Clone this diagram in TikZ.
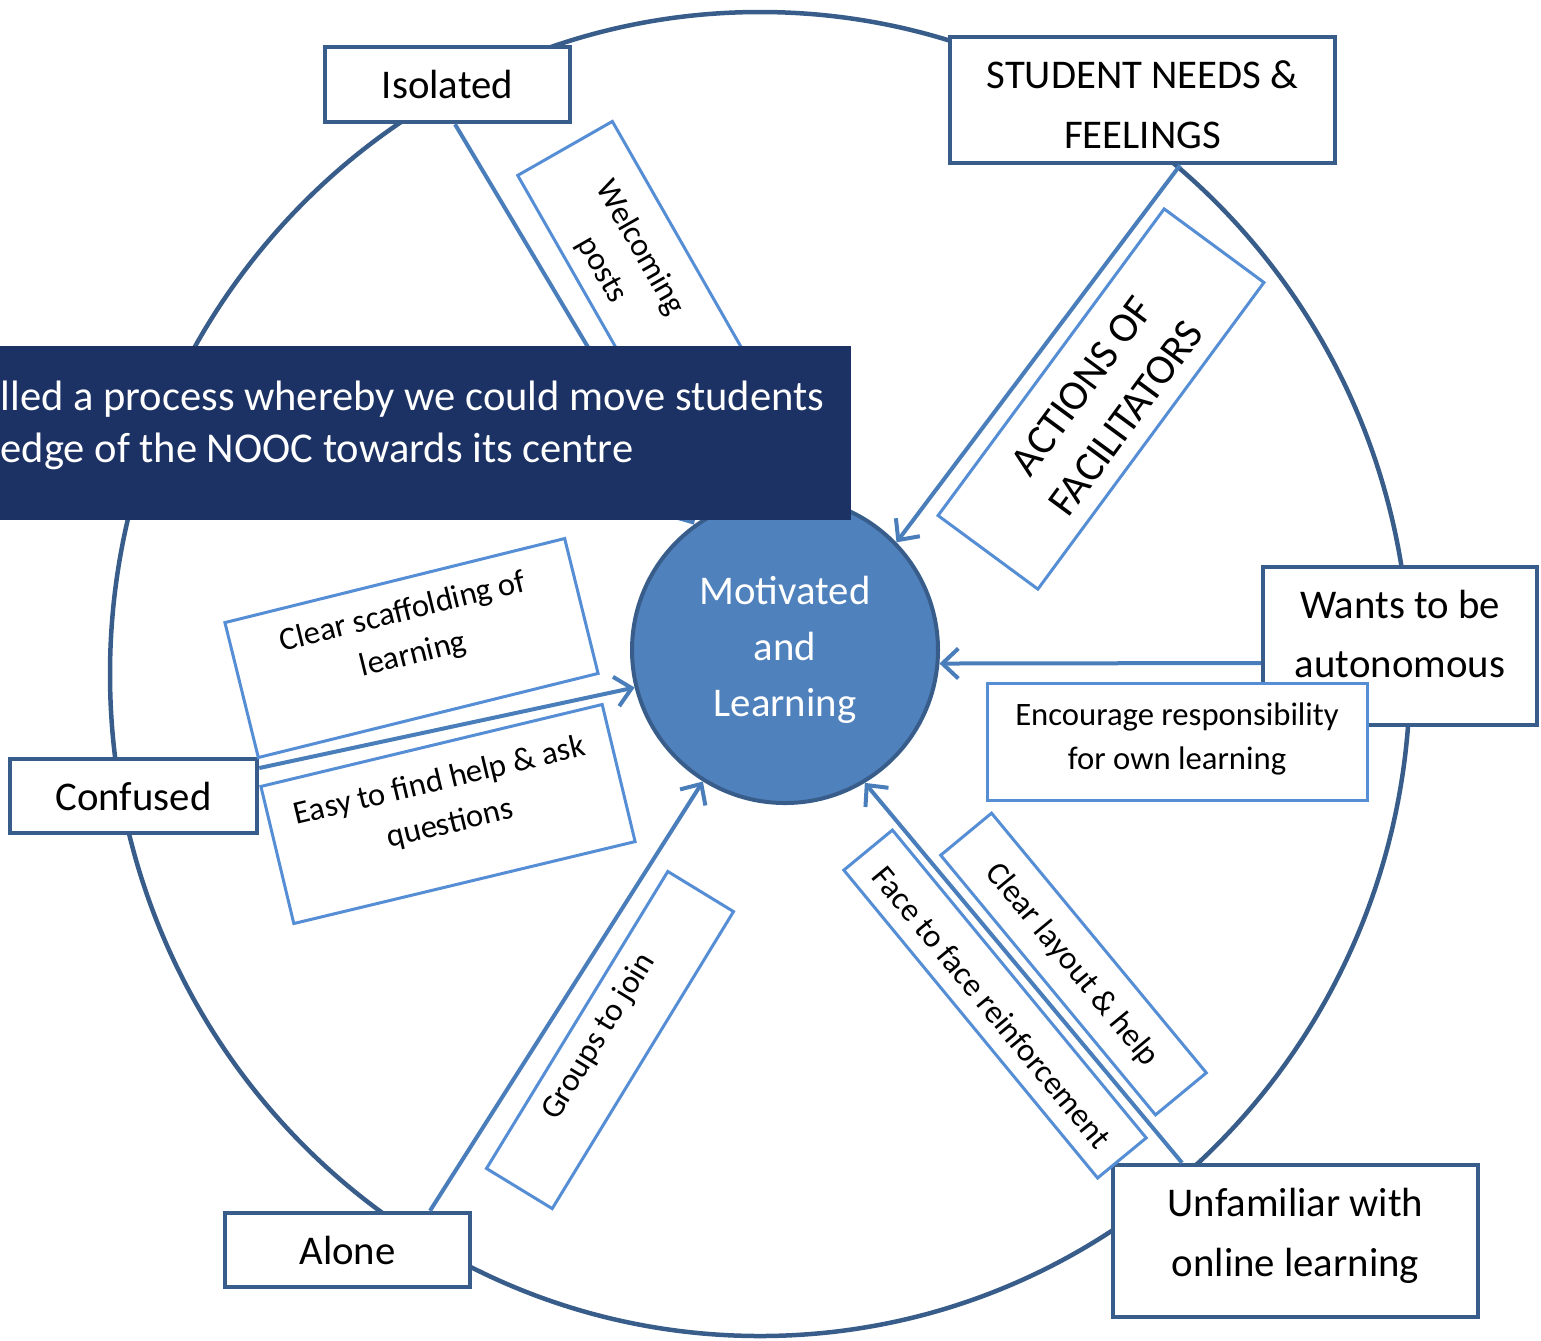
\documentclass[tikz,border=0pt]{standalone}
\usepackage{fontspec}
\setmainfont{Carlito}
\usepackage{tikz}
\usetikzlibrary{arrows.meta}

\definecolor{rimblue}{RGB}{56,93,138}
\definecolor{flowblue}{RGB}{74,126,187}
\definecolor{tagblue}{RGB}{85,142,213}
\definecolor{coreblue}{RGB}{79,129,189}
\definecolor{bannerblue}{RGB}{28,50,100}

\begin{document}
\begin{tikzpicture}[
        x=0.1mm, y=-0.1mm,
        statebox/.style={draw=rimblue, line width=0.45mm, fill=white, align=center, inner sep=0pt, font=\fontsize{11.6}{17}\selectfont},
        statetext/.style={align=center, inner sep=0pt, font=\fontsize{11.6}{17}\selectfont},
        tagbox/.style={draw=tagblue, line width=0.3mm, fill=white, inner sep=0pt},
        tagtext/.style={align=center, inner sep=0pt, font=\fontsize{9.3}{12.5}\selectfont},
        flowline/.style={draw=flowblue, line width=0.4mm, -{Straight Barb[length=1.6mm,width=3mm]}}
    ]
        \useasboundingbox (0,0) rectangle (1541,1340);
        \draw [rimblue, line width=0.45mm] (760,674) ellipse [x radius=65mm, y radius=66.2mm];

        % student states round the rim
        \node (iso) [statebox, minimum width=24.5mm, minimum height=7.5mm] at (447.5,84.5) {Isolated};
        \node (feel) [statebox, minimum width=38.5mm, minimum height=12.6mm] at (1142.5,100) {};
        \node (feelT) [statetext] at (1142.5,105) {STUDENT NEEDS \&\\FEELINGS};
        \node (want) [statebox, minimum width=27.4mm, minimum height=15.8mm] at (1400,646) {};
        \node (wantT) [statetext] at (1400,634) {Wants to be\\autonomous};
        \node (unf) [statebox, minimum width=36.5mm, minimum height=15.2mm] at (1295.5,1241) {};
        \node (unfT) [statetext] at (1295.5,1236) {Unfamiliar with\\online learning};
        \node (alone) [statebox, minimum width=24.5mm, minimum height=7.4mm] at (347.5,1250) {Alone};
        \node (conf) [statebox, minimum width=24.7mm, minimum height=7.4mm] at (133.5,796) {Confused};

        % actions along the arrows
        \node (welc) [tagbox, rotate=-60.3, minimum width=28mm, minimum height=10.9mm] at (634.4,270) {};
        \node (welcT) [tagtext, rotate=-60.3] at (621,259) {Welcoming\\posts};
        \node (act) [tagbox, rotate=53.6, minimum width=38.1mm, minimum height=12.4mm] at (1101,399) {};
        \node (actT) [tagtext, rotate=53.6, font=\fontsize{12}{15.6}\selectfont] at (1104,402) {ACTIONS OF\\FACILITATORS};
        \node (resp) [tagbox, minimum width=38mm, minimum height=11.7mm] at (1177,741.5) {};
        \node (respT) [tagtext] at (1177,738.5) {Encourage responsibility\\for own learning};
        \node (face) [tagbox, rotate=-50.5, minimum width=39.9mm, minimum height=6.3mm] at (995,1004) {};
        \node (faceT) [tagtext, rotate=-50.5] at (992,1007) {Face to face reinforcement};
        \node (lay) [tagbox, rotate=-50.4, minimum width=33.7mm, minimum height=6.6mm] at (1073.5,964) {};
        \node (layT) [tagtext, rotate=-50.4] at (1072,965) {Clear layout \& help};
        \node (grp) [tagbox, rotate=58.6, minimum width=34.8mm, minimum height=7.7mm] at (610,1040) {};
        \node (grpT) [tagtext, rotate=58.6] at (599,1037) {Groups to join};
        \node (scaf) [tagbox, rotate=13.9, minimum width=35mm, minimum height=13.9mm] at (411.5,648) {};
        \node (scafT) [tagtext, rotate=13.9] at (408,634) {Clear scaffolding of\\learning};
        \node (easy) [tagbox, rotate=13.5, minimum width=35.1mm, minimum height=14.1mm] at (448,814) {};
        \node (easyT) [tagtext, rotate=13.5] at (445,803) {Easy to find help \& ask\\questions};

        \node (mot) [circle, draw=rimblue, line width=0.4mm, fill=coreblue, text=white, minimum size=30.6mm, inner sep=0pt, align=center, font=\fontsize{11.6}{16}\selectfont] at (785,650) {Motivated\\and\\Learning};

        \draw [flowline] ([xshift=0.75mm]iso.south) -- (mot.126);
        \draw [flowline] ([xshift=3.75mm]feel.south) -- (mot.44);
        \draw [flowline] ([yshift=-1.7mm]want.west) -- (mot.-5);
        \draw [flowline] ([xshift=-11.35mm]unf.north) -- (mot.-59.5);
        \draw [flowline] ([xshift=8.25mm]alone.north) -- (mot.-122.5);
        \draw [flowline] ([yshift=2.8mm]conf.east) -- (mot.-166);

        % slide caption laid over the picture
        \fill [bannerblue] (0,346) rectangle (851,520);
        \node (blurb) [anchor=west, align=left, inner sep=0pt, text=white, font=\fontsize{12.1}{14.8}\selectfont] at (0,425) {lled a process whereby we could move students\\edge of the NOOC towards its centre};
    \end{tikzpicture}
\end{document}
